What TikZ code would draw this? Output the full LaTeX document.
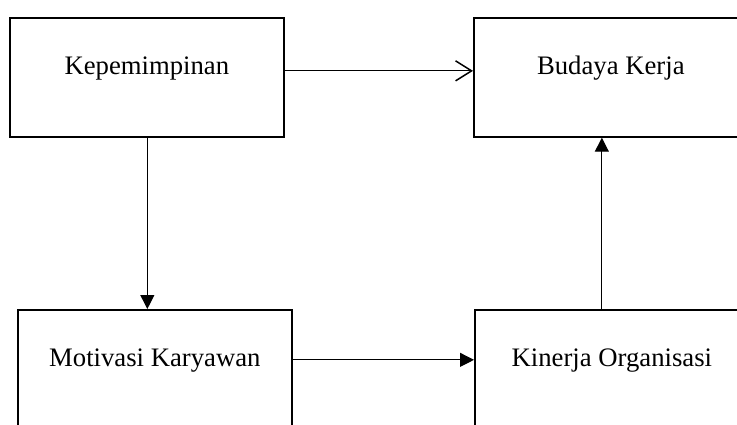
\documentclass[tikz,border=0pt]{standalone}
\usepackage{fontspec}
\setmainfont{Liberation Serif}
\usetikzlibrary{arrows.meta}
\begin{document}
\begin{tikzpicture}[x=1pt,y=-1pt,
  box/.style={draw, line width=1.7pt, inner sep=0pt, minimum width=274pt,
    text height=57pt, text depth=62pt, font=\fontsize{26.7}{32}\selectfont},
  conn/.style={line width=1.1pt},
  tri/.style={conn, -{Triangle[length=14pt,width=14pt]}},
  barb/.style={conn, -{Straight Barb[length=16pt,width=20pt,line width=1.5pt]}}]
\useasboundingbox[fill=white] (0,0) rectangle (737,424);
\node[box, anchor=north west] (k) at (9,17) {Kepemimpinan};
\node[box, anchor=north west] (b) at (473,17) {Budaya Kerja};
\node[box, anchor=north west] (m) at (17,309) {Motivasi Karyawan};
\node[box, anchor=north west] (o) at (474,309) {Kinerja Organisasi};
\draw[barb] ([yshift=6.5pt]k.east) -- ([yshift=6.5pt]k.east -| b.west);
\draw[tri] ([xshift=0.5pt]k.south) -- ([xshift=0.5pt]k.south |- m.north);
\draw[tri] ([yshift=9.5pt]m.east) -- ([yshift=9.5pt]m.east -| o.west);
\draw[tri] ([xshift=-10pt]o.north) -- ([xshift=-10pt]o.north |- b.south);
\end{tikzpicture}
\end{document}
